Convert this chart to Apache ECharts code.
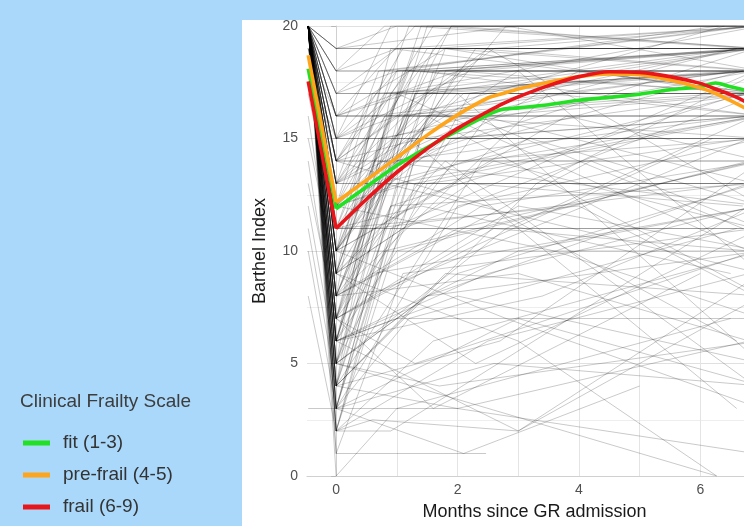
<!DOCTYPE html>
<html>
<head>
<meta charset="utf-8">
<script src="https://cdn.jsdelivr.net/npm/echarts@6/dist/echarts.min.js"></script>
<style>html,body{margin:0;padding:0;background:#a9d8fb;}#c{width:744px;height:526px;}</style>
</head>
<body>
<div id="c"></div>
<script>
// ---- data ----
const PRE_MONTH = -0.46;            // pre-admission measurement
const xTickLabels = [0, 2, 4, 6];
const xGridMonths = [0, 1, 2, 3, 4, 5, 6];
const yTicks = [0, 5, 10, 15, 20];

// individual patient trajectories: [BI pre, BI admission, month, BI, month, BI, ...]
const patientsRecovered = [
  [20,3,1.4,15,6.9,17],[20,4,1.1,16,6.6,18],[20,5,1.8,18,7.0,19],[20,6,0.9,14,6.8,16],
  [20,7,1.3,17,6.5,18],[20,8,1.6,19,7.0,20],[20,9,1.0,17,6.7,19],[20,10,1.2,18,6.9,18],
  [20,11,0.8,16,6.4,17],[20,12,1.5,19,7.0,19],[20,13,0.7,18,6.8,20],[20,14,1.1,19,6.9,19],
  [20,15,0.9,20,7.0,20],[20,16,1.3,20,6.6,20],[20,17,1.0,19,7.0,20],[20,6,2.2,17,6.9,19],
  [20,7,2.5,16,7.0,17],[20,9,2.0,18,6.8,17],[20,8,1.9,15,6.9,16],[20,10,2.3,19,7.0,18],
  [20,11,1.7,18,6.7,19],[20,12,2.1,17,6.9,18],[20,5,1.5,13,6.8,15],[20,4,2.4,14,7.0,16],
  [20,13,1.9,20,6.9,19],[20,14,2.6,19,7.0,20],[20,12,1.0,18,6.3,20],[20,10,0.8,15,6.6,19],
  [20,9,1.4,20,6.9,20],[20,11,2.8,20,7.0,18],[20,15,2.2,18,7.0,19],[20,16,1.8,19,6.5,17],
  [19,12,1.6,17,6.8,18],[20,8,1.0,14,6.9,19],[20,7,0.9,12,6.7,17],[20,3,2.0,12,7.0,15],
  [20,6,1.2,16,6.4,20],[20,13,1.4,16,6.9,17],[20,14,0.8,17,6.8,18],[20,10,1.6,16,7.0,15]
];
const patientsEarlyRecovered = [
  [20,5,0.7,15,6.9,18],[20,6,1.1,18,6.8,19],[20,4,0.9,17,7.0,20],[20,8,0.6,16,6.7,18],
  [20,9,1.3,19,7.0,19],[20,7,1.5,20,6.9,20],[20,10,0.9,19,7.0,17],[20,11,1.2,20,6.8,19],
  [20,12,0.6,17,7.0,18],[20,3,1.0,13,6.9,16],[20,5,1.3,17,7.0,17],[20,2,1.5,16,6.6,19],
  [20,8,1.4,18,7.0,16],[20,6,0.7,13,6.8,17],[20,9,0.8,18,6.9,20],[20,13,1.6,20,7.0,19],
  [20,10,1.9,20,6.7,20],[20,14,1.2,18,7.0,17],[20,7,1.8,19,6.9,18],[20,4,1.6,18,7.0,19]
];
const patientsSteepLow = [
  [20,2,0.8,10,6.9,14],[20,3,0.6,9,7.0,12],[20,4,0.5,8,6.8,15],[20,5,0.9,12,7.0,13],
  [20,1,1.1,9,6.9,11],[20,2,1.3,13,7.0,16],[20,6,0.6,11,6.7,13],[20,7,0.7,14,7.0,12],
  [20,3,0.9,11,6.9,18],[20,8,0.8,13,7.0,9]
];
const patientsStable = [
  [20,19,1.5,19,7.0,19],[20,19,7.0,19],[20,19,3.0,20,7.0,20],[20,18,7.0,18],
  [20,18,2.0,18,7.0,18],[20,18,1.0,19,7.0,19],[20,17,7.0,17],[20,17,2.5,17,7.0,17],
  [20,16,7.0,16],[20,16,3.0,16,7.0,16],[20,15,7.0,15],[20,15,1.5,15,7.0,15],
  [20,14,7.0,14],[19,14,2.0,14,7.0,14],[20,13,1.3,13,7.0,13],[20,13,7.0,13],
  [20,11,7.0,11],[20,10,7.0,10],[20,11,2.0,11,7.0,11],[20,17,1.0,18,7.0,18],
  [20,16,1.2,17,7.0,17],[20,19,1.0,20,7.0,20],[20,18,0.8,20,7.0,20],[20,15,1.0,16,7.0,16],
  [20,14,1.4,15,7.0,15],[20,12,1.2,13,7.0,13],[20,6,1.0,7,7.0,7],[3,3,2.0,3,6.8,6]
];
const patientsModerate = [
  [20,8,2.0,11,7.0,14],[20,6,2.5,9,6.9,12],[20,5,1.5,8,6.8,13],[20,7,3.0,12,7.0,10],
  [20,9,2.2,13,6.7,12],[20,4,1.8,9,7.0,8],[20,10,2.6,14,6.9,11],[20,12,3.2,15,7.0,12],
  [20,11,1.4,12,6.5,9],[20,6,1.0,10,6.8,14],[20,8,3.5,17,7.0,16],[20,5,2.8,11,6.9,16],
  [20,3,1.2,7,6.6,11],[20,2,1.6,6,7.0,10],[20,9,1.1,11,7.0,17],[20,7,2.1,10,6.2,15],
  [20,10,3.8,16,7.0,14],[20,13,2.4,16,6.9,13],[20,12,4.0,18,7.0,17],[20,4,3.3,13,7.0,18]
];
const patientsLow = [
  [20,6,3.0,2,7.0,8],[20,2,0.6,2.5,3.0,2,7.0,9],[20,5,6.27,0],[20,9,3.0,6,6.27,0],
  [20,4,2.0,3,6.9,1],[20,1,2.47,1],[20,0,1.0,3,6.5,7],[20,3,2.6,5,7.0,4],
  [20,6,2.0,8,7.0,5],[20,8,3.0,9,6.8,6],[20,10,2.8,7,7.0,3],[20,12,3.6,10,7.0,7],
  [20,14,2.5,12,6.6,6],[20,11,4.0,12,6.9,8],[20,2,0.9,2,6.8,12],[20,5,1.7,4,7.0,6],
  [20,7,1.6,3,6.0,9],[20,9,2.3,5,7.0,11],[20,3,2.1,1,5.0,4]
];
const patientsLowBaseline = [
  [12,5,2.0,9,6.9,13],[11,4,1.5,8,7.0,10],[8,2,2.5,6,6.8,9],[15,9,2.0,14,7.0,15],
  [17,11,1.8,15,6.9,16],[14,6,3.0,10,7.0,12],[18,10,1.2,14,6.7,18],[16,8,2.4,12,7.0,14],
  [19,13,1.5,17,6.9,19],[18,15,1.0,18,7.0,19],[19,16,2.0,18,6.8,18],[10,3,3.0,7,7.0,4],
  [13,7,2.6,11,6.8,10]
];
const patientsCrossing = [
  [20,12,1.5,16,7.0,8],[20,11,2.0,17,7.0,5],[20,10,1.2,15,6.6,3],[20,13,3.0,18,7.0,9],
  [20,9,1.8,14,6.9,4],[20,14,2.5,19,7.0,12],[20,15,1.0,17,6.8,10],[20,8,4.2,14,7.0,11],
  [20,6,3.4,8,7.0,12],[20,4,2.7,6,7.0,14],[20,7,1.3,5,6.9,10],[20,16,2.2,16,6.7,11]
];

// group mean curves (Clinical Frailty Scale)
const groupNames = ['fit (1-3)', 'pre-frail (4-5)', 'frail (6-9)'];
const groupPre = [18.1, 18.7, 17.54];
const curveMonths = [0, 0.5, 1, 1.5, 2, 2.5, 2.75, 3, 3.5, 4, 4.5, 5, 5.5, 6, 6.25, 6.5, 7];
const fitBI      = [11.88,12.85,13.8,14.6,15.35,16.05,16.3,16.36,16.5,16.7,16.83,16.97,17.17,17.3,17.47,17.3,17.0];
const preFrailBI = [12.17,13.15,14.15,15.15,16.05,16.8,17.0,17.2,17.5,17.75,17.87,17.84,17.6,17.25,17.0,16.68,16.0];
const frailBI    = [11.0,12.3,13.5,14.55,15.45,16.2,16.55,16.85,17.35,17.75,17.97,17.94,17.75,17.45,17.2,16.95,16.3];
const groupColors = ['#22e022', '#ffa51c', '#e8161b'];

// ---- build ----
const allPatients = [].concat(patientsRecovered, patientsEarlyRecovered, patientsSteepLow,
  patientsStable, patientsModerate, patientsLow, patientsLowBaseline, patientsCrossing);

function toPoints(p) {
  const pts = [];
  if (p[0] !== null) pts.push([PRE_MONTH, p[0]]);
  pts.push([0, p[1]]);
  for (let i = 2; i < p.length; i += 2) pts.push([p[i], p[i + 1]]);
  return pts;
}

const series = [];
allPatients.forEach(function (p, i) {
  series.push({
    type: 'line', name: 'patient' + i, data: toPoints(p),
    symbol: 'none', silent: true, animation: false, z: 2,
    lineStyle: { color: 'rgba(0,0,0,0.27)', width: 0.8 }
  });
});

const groupCurves = [fitBI, preFrailBI, frailBI];
groupNames.forEach(function (name, g) {
  const col = groupColors[g];
  const vals = groupCurves[g];
  series.push({
    type: 'line', name: name, color: col,
    data: [[PRE_MONTH, groupPre[g]], [0, vals[0]]],
    symbol: 'none', silent: true, animation: false, z: 5 + g,
    lineStyle: { color: col, width: 3.6 }
  });
  series.push({
    type: 'line', name: name, color: col,
    data: curveMonths.map(function (m, i) { return [m, vals[i]]; }),
    smooth: 0.3, symbol: 'none', silent: true, animation: false, z: 5 + g,
    lineStyle: { color: col, width: 3.6, join: 'round' }
  });
});

const chart = echarts.init(document.getElementById('c'), null, { renderer: 'canvas' });
chart.setOption({
  backgroundColor: '#a9d8fb',
  animation: false,
  textStyle: { fontFamily: 'Liberation Sans, Arial, sans-serif' },
  graphic: [{
    type: 'rect', z: -10, silent: true,
    shape: { x: 242, y: 20, width: 502, height: 506 },
    style: { fill: '#ffffff' }
  }],
  title: {
    text: 'Clinical Frailty Scale', left: 15, top: 387,
    textStyle: { fontSize: 19, fontWeight: 'normal', color: '#3d3d3d' }
  },
  legend: {
    data: groupNames, orient: 'vertical', left: 18, top: 428,
    itemGap: 12, itemWidth: 27, itemHeight: 5, icon: 'rect',
    textStyle: { fontSize: 19, color: '#333333', lineHeight: 20, padding: [0, 0, 0, 8] },
    selectedMode: false
  },
  grid: { left: 307, right: 0, top: 26, bottom: 47, containLabel: false },
  xAxis: {
    type: 'value', min: -0.48, max: 6.72, splitNumber: 8,
    name: 'Months since GR admission', nameLocation: 'middle', nameGap: 27,
    nameTextStyle: { fontSize: 18, color: '#1a1a1a', padding: [0, 0, 0, 18] },
    axisLine: { show: true, lineStyle: { color: '#d0d0d0', width: 1 } },
    axisTick: { show: false, customValues: xGridMonths },
    axisLabel: { customValues: xTickLabels, fontSize: 14, color: '#505050', margin: 7 },
    splitLine: { show: true, lineStyle: { color: '#e4e4e4', width: 1 } }
  },
  yAxis: {
    type: 'value', min: 0, max: 20, interval: 5,
    name: 'Barthel Index', nameLocation: 'middle', nameGap: 38,
    nameTextStyle: { fontSize: 18, color: '#1a1a1a' },
    axisLine: { show: true, lineStyle: { color: '#d0d0d0', width: 1 } },
    axisTick: { show: true, length: 5, lineStyle: { color: '#b8b8b8' } },
    axisLabel: { fontSize: 14, color: '#505050', margin: 9 },
    splitLine: { show: true, lineStyle: { color: '#e0e0e0', width: 1 } },
    minorTick: { show: false, splitNumber: 2 },
    minorSplitLine: { show: true, lineStyle: { color: '#eeeeee', width: 1 } }
  },
  series: series
});
</script>
</body>
</html>
